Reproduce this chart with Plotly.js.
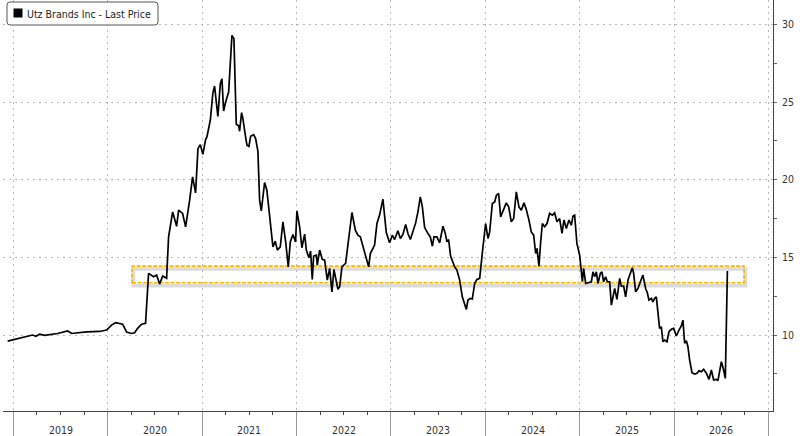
<!DOCTYPE html>
<html>
<head>
<meta charset="utf-8">
<script src="https://cdn.plot.ly/plotly-3.0.1.min.js"></script>
<style>
html,body{margin:0;padding:0;background:#fff;}
#chart{width:800px;height:436px;}
</style>
</head>
<body>
<div id="chart"></div>
<script>
// ---- data (decimal year, last price) ----
const seriesName = 'Utz Brands Inc - Last Price';
const yearLabels = ['2019','2020','2021','2022','2023','2024','2025','2026'];
const yTickVals = [10, 15, 20, 25, 30];
const t = [
2018.940,2019.067,2019.204,2019.240,2019.279,2019.332,2019.469,2019.575,2019.618,2019.776,2019.914,
2019.988,2020.041,2020.084,2020.158,2020.200,2020.253,2020.285,2020.317,2020.359,2020.401,
2020.433,2020.486,2020.518,2020.550,2020.582,2020.624,2020.645,2020.688,2020.730,2020.751,
2020.793,2020.825,2020.868,2020.899,2020.931,2020.956,2020.981,2021.008,2021.037,2021.051,
2021.087,2021.114,2021.132,2021.167,2021.193,2021.210,2021.228,2021.249,2021.281,2021.316,
2021.337,2021.362,2021.387,2021.397,2021.418,2021.432,2021.458,2021.475,2021.496,2021.514,
2021.546,2021.567,2021.591,2021.609,2021.627,2021.662,2021.686,2021.715,2021.750,2021.775,
2021.797,2021.828,2021.856,2021.885,2021.913,2021.934,2021.962,2021.990,2022.004,2022.033,
2022.057,2022.086,2022.104,2022.131,2022.149,2022.167,2022.181,2022.210,2022.220,2022.245,
2022.273,2022.298,2022.326,2022.351,2022.375,2022.396,2022.414,2022.439,2022.457,2022.481,
2022.520,2022.555,2022.587,2022.623,2022.650,2022.676,2022.703,2022.732,2022.764,2022.782,
2022.827,2022.852,2022.880,2022.915,2022.951,2022.986,2023.015,2023.039,2023.074,2023.100,
2023.127,2023.156,2023.180,2023.206,2023.233,2023.262,2023.286,2023.311,2023.333,2023.357,
2023.392,2023.417,2023.439,2023.456,2023.487,2023.516,2023.551,2023.576,2023.593,2023.611,
2023.632,2023.650,2023.675,2023.699,2023.728,2023.756,2023.781,2023.799,2023.816,2023.841,
2023.862,2023.887,2023.911,2023.940,2023.975,2024.003,2024.028,2024.046,2024.074,2024.099,
2024.117,2024.141,2024.162,2024.194,2024.222,2024.247,2024.275,2024.300,2024.328,2024.356,
2024.381,2024.409,2024.434,2024.462,2024.487,2024.512,2024.533,2024.547,2024.568,2024.586,
2024.604,2024.628,2024.653,2024.681,2024.710,2024.734,2024.759,2024.787,2024.812,2024.833,
2024.858,2024.886,2024.911,2024.928,2024.946,2024.970,2024.999,2025.028,2025.041,2025.063,
2025.097,2025.123,2025.140,2025.158,2025.176,2025.193,2025.218,2025.235,2025.253,2025.274,
2025.292,2025.317,2025.335,2025.352,2025.370,2025.394,2025.423,2025.441,2025.465,2025.486,
2025.511,2025.557,2025.571,2025.592,2025.617,2025.642,2025.669,2025.698,2025.716,2025.733,
2025.758,2025.775,2025.793,2025.811,2025.828,2025.846,2025.864,2025.881,2025.899,2025.924,
2025.945,2025.970,2025.995,2026.023,2026.051,2026.076,2026.093,2026.111,2026.129,2026.146,
2026.164,2026.189,2026.217,2026.242,2026.263,2026.288,2026.313,2026.341,2026.369,2026.394,
2026.418,2026.447,2026.464,2026.500,2026.524,2026.542,2026.564
];
const price = [
9.61,9.79,10.00,9.92,10.06,9.98,10.10,10.26,10.10,10.20,10.23,
10.32,10.64,10.80,10.70,10.20,10.10,10.15,10.43,10.70,10.75,
13.97,13.75,13.86,13.28,13.80,13.65,16.32,17.93,17.00,18.04,
17.83,16.97,18.68,20.18,19.15,22.00,22.26,21.64,22.58,22.75,
23.83,25.58,26.03,24.08,26.18,26.50,24.42,25.00,25.64,29.29,
29.08,23.57,23.48,23.12,24.32,23.94,22.86,22.22,22.15,22.80,
22.90,22.65,21.85,18.68,17.99,19.82,19.32,17.83,15.68,16.05,
15.47,15.68,17.29,16.00,14.39,16.00,16.47,16.00,17.99,16.97,
15.62,16.50,15.47,14.97,15.40,13.58,15.08,15.14,14.50,15.47,
14.87,14.82,13.54,14.29,12.78,14.22,13.75,12.94,13.11,14.39,
14.61,16.54,17.89,16.75,16.43,16.32,15.72,15.25,14.39,15.25,
15.79,17.18,17.72,18.75,16.60,15.94,16.43,16.15,16.71,16.22,
16.48,17.12,16.54,16.15,16.64,17.22,17.93,18.89,18.25,16.92,
16.54,16.32,15.72,16.32,16.32,15.94,17.01,16.54,16.00,16.15,
15.08,14.82,14.39,14.18,13.54,12.46,11.93,11.65,12.25,12.36,
12.32,13.32,13.58,13.65,15.68,17.18,16.22,16.64,18.47,18.57,
19.00,19.11,17.61,18.04,18.51,18.25,17.29,17.50,19.22,18.25,
18.04,18.51,18.08,17.40,16.64,16.43,15.25,15.58,14.44,16.00,
17.18,16.97,17.18,17.83,17.72,17.86,17.29,17.50,16.54,17.40,
16.86,17.40,17.07,17.65,17.72,15.90,15.14,13.43,14.29,13.32,
13.36,13.43,14.07,13.75,14.07,13.32,13.97,14.07,13.43,13.75,
13.43,13.43,11.93,12.46,13.00,12.30,13.65,13.15,13.15,12.46,
13.54,14.33,13.97,12.78,13.00,13.43,13.86,13.00,12.72,12.25,
12.36,12.14,12.36,12.46,11.61,10.43,10.53,9.57,9.68,9.57,
10.21,10.37,10.43,9.94,10.32,10.58,10.96,9.47,9.63,9.25,
8.39,7.58,7.49,7.54,7.70,7.64,7.79,7.54,7.15,7.75,
7.11,7.15,7.06,8.28,7.75,7.21,14.12
];
// highlighted band (price levels and period)
const bandStart = 2020.257, bandEnd = 2026.740;
const bandLow = 13.37, bandHigh = 14.44;

// ---- layout geometry ----
const W = 800, H = 436;
const M = {l: 3, r: 27, t: 0, b: 25};
const PW = W - M.l - M.r, PH = H - M.t - M.b;
const xRange = [2018.891, 2027.047];
const yRange = [5.11, 31.57];
const px2x = px => (px - M.l) / PW;
const py2y = py => 1 - (py - M.t) / PH;
const pxPerYear = PW / (xRange[1] - xRange[0]);
const pxPerUnit = PH / (yRange[1] - yRange[0]);

const FONT = '"DejaVu Sans Condensed", "DejaVu Sans", sans-serif';

// rounded legend box path in paper coords
function roundRect(x0p, y0p, x1p, y1p, r) {
  const X = v => px2x(v).toFixed(5), Y = v => py2y(v).toFixed(5);
  return 'M' + X(x0p + r) + ',' + Y(y0p) +
    ' L' + X(x1p - r) + ',' + Y(y0p) +
    ' Q' + X(x1p) + ',' + Y(y0p) + ' ' + X(x1p) + ',' + Y(y0p + r) +
    ' L' + X(x1p) + ',' + Y(y1p - r) +
    ' Q' + X(x1p) + ',' + Y(y1p) + ' ' + X(x1p - r) + ',' + Y(y1p) +
    ' L' + X(x0p + r) + ',' + Y(y1p) +
    ' Q' + X(x0p) + ',' + Y(y1p) + ' ' + X(x0p) + ',' + Y(y1p - r) +
    ' L' + X(x0p) + ',' + Y(y0p + r) +
    ' Q' + X(x0p) + ',' + Y(y0p) + ' ' + X(x0p + r) + ',' + Y(y0p) + ' Z';
}

const shadowDx = 1.5 / pxPerYear, shadowDy = 3 / pxPerUnit;

const shapes = [
  // band shadow
  {type: 'rect', xref: 'x', yref: 'y', layer: 'below',
   x0: bandStart + shadowDx, x1: bandEnd + shadowDx,
   y0: bandLow - shadowDy, y1: bandHigh - shadowDy,
   line: {color: 'rgba(160,160,160,0.38)', width: 3.5}, fillcolor: 'rgba(0,0,0,0)'},
  // band dashed outline
  {type: 'rect', xref: 'x', yref: 'y', layer: 'below',
   x0: bandStart, x1: bandEnd, y0: bandLow, y1: bandHigh,
   line: {color: '#f7b500', width: 1.6, dash: '4px,1.5px'}, fillcolor: 'rgba(0,0,0,0)'},
  // legend box
  {type: 'path', xref: 'paper', yref: 'paper', layer: 'above',
   path: roundRect(7, 2, 158, 25, 3),
   line: {color: '#555', width: 1}, fillcolor: '#fff'},
  // legend swatch
  {type: 'rect', xref: 'paper', yref: 'paper', layer: 'above',
   x0: px2x(13.5), x1: px2x(22.5), y0: py2y(17.5), y1: py2y(8.5),
   line: {width: 0}, fillcolor: '#000'}
];

const annotations = yearLabels.map(y => ({
  x: Number(y) + 0.5, xref: 'x', y: py2y(430), yref: 'paper',
  text: y, showarrow: false, xanchor: 'center', yanchor: 'middle',
  font: {family: FONT, size: 10.5, color: '#333'}
}));
annotations.push({
  x: px2x(25), xref: 'paper', y: py2y(13.5), yref: 'paper',
  text: seriesName, showarrow: false, xanchor: 'left', yanchor: 'middle',
  font: {family: FONT, size: 10.5, color: '#222'}
});

const traces = [
  {x: t, y: price, type: 'scatter', mode: 'lines', name: seriesName,
   line: {color: '#000', width: 1.7}, hoverinfo: 'skip', showlegend: false},
  // axis tick triangles
  {x: yTickVals.map(() => xRange[1] + 2.6 / pxPerYear), y: yTickVals,
   type: 'scatter', mode: 'markers', cliponaxis: false, hoverinfo: 'skip', showlegend: false,
   marker: {symbol: 'triangle-right', size: 6, color: '#1a1a1a', line: {width: 0}}}
];

const layout = {
  width: W, height: H,
  margin: M,
  paper_bgcolor: '#fff', plot_bgcolor: '#fff',
  showlegend: false,
  hovermode: false,
  xaxis: {
    type: 'linear', range: xRange, fixedrange: true,
    tickmode: 'linear', tick0: 2019, dtick: 1,
    ticks: 'outside', ticklen: 25, tickcolor: '#9a9a9a', tickwidth: 1,
    showticklabels: false,
    showgrid: true, gridcolor: '#b8b8b8', gridwidth: 1, griddash: '2px,4px',
    zeroline: false, showline: true, linecolor: '#444', linewidth: 1,
    minor: {tick0: 2019, dtick: 0.25, ticks: 'outside', ticklen: 3, tickcolor: '#444', tickwidth: 1, showgrid: false}
  },
  yaxis: {
    side: 'right', range: yRange, fixedrange: true,
    tickmode: 'array', tickvals: yTickVals, ticktext: yTickVals.map(String),
    ticks: 'outside', ticklen: 6, tickcolor: 'rgba(0,0,0,0)',
    tickfont: {family: FONT, size: 10.5, color: '#333'},
    showgrid: true, gridcolor: '#b8b8b8', gridwidth: 1, griddash: '2px,4px',
    zeroline: false, showline: true, linecolor: '#444', linewidth: 1,
    minor: {tick0: 0, dtick: 2.5, ticks: 'outside', ticklen: 3, tickcolor: '#666', tickwidth: 1, showgrid: false}
  },
  shapes: shapes,
  annotations: annotations
};

Plotly.newPlot('chart', traces, layout, {displayModeBar: false, staticPlot: true});
</script>
</body>
</html>
